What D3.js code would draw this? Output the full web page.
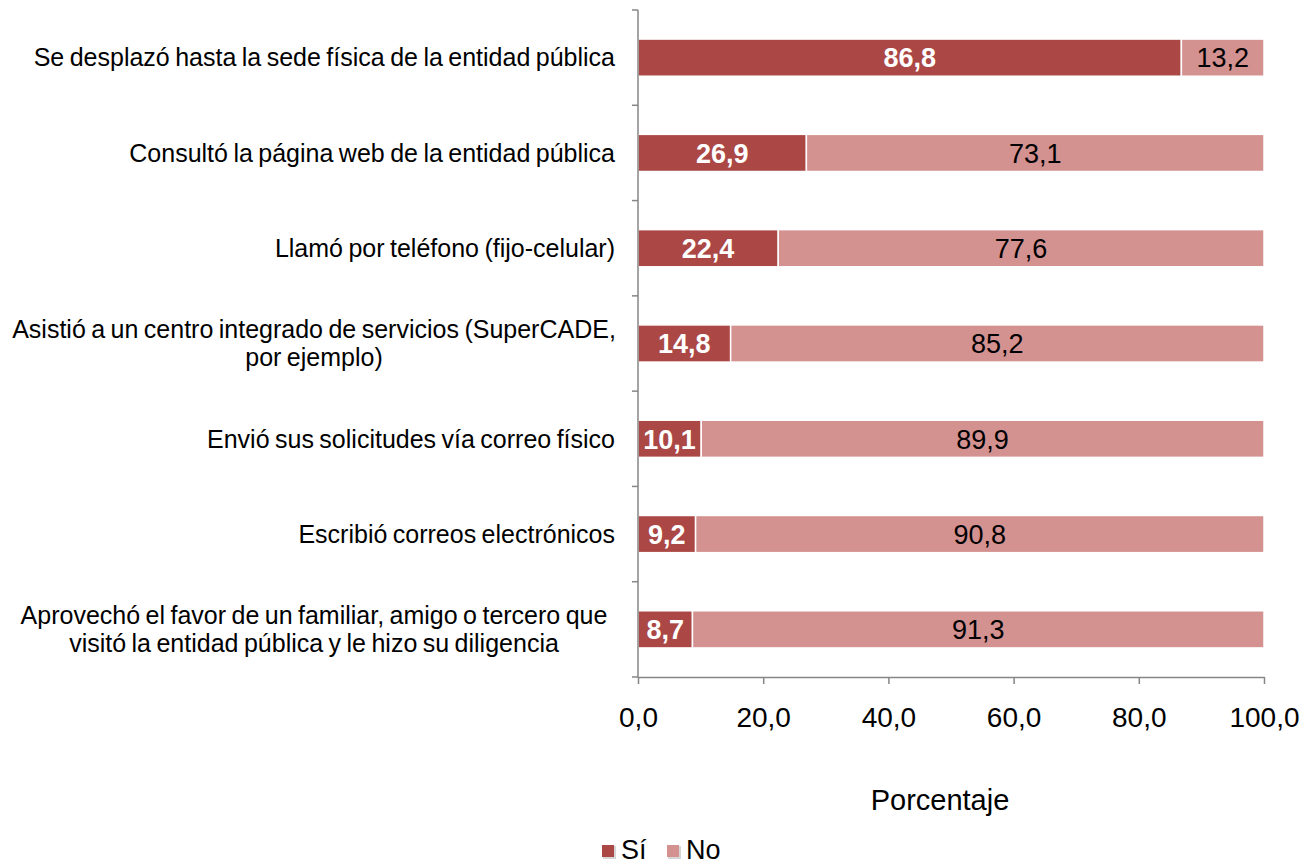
<!DOCTYPE html>
<html>
<head>
<meta charset="utf-8">
<script src="https://cdn.jsdelivr.net/npm/d3@7"></script>
<style>
  html, body { margin: 0; padding: 0; background: #fff; }
  svg text { font-family: "Liberation Sans", Arial, sans-serif; }
</style>
</head>
<body>
<svg id="chart" width="1314" height="865"></svg>
<script>
// Categories (top to bottom); each may wrap onto two lines
const categories = [
  ["Se desplazó hasta la sede física de la entidad pública"],
  ["Consultó la página web de la entidad pública"],
  ["Llamó por teléfono (fijo-celular)"],
  ["Asistió a un centro integrado de servicios (SuperCADE,", "por ejemplo)"],
  ["Envió sus solicitudes vía correo físico"],
  ["Escribió correos electrónicos"],
  ["Aprovechó el favor de un familiar, amigo o tercero  que", "visitó la entidad pública y le hizo su diligencia"]
];
const siValues = [86.8, 26.9, 22.4, 14.8, 10.1, 9.2, 8.7];
const noValues = [13.2, 73.1, 77.6, 85.2, 89.9, 90.8, 91.3];
const seriesNames = ["Sí", "No"];
const xTicks = [0, 20, 40, 60, 80, 100];

const colors = { "Sí": "#AB4745", "No": "#D39190" };
const fmt = v => v.toFixed(1).replace(".", ",");

const svg = d3.select("#chart");
const plot = { left: 638, right: 1264, top: 10, bottom: 677 };

const x = d3.scaleLinear().domain([0, 100]).range([plot.left, plot.right]);
const y = d3.scaleBand().domain(d3.range(categories.length)).range([plot.top, plot.bottom]).paddingInner(0.61).paddingOuter(0.305);

const rows = categories.map((c, i) => ({ i, si: siValues[i], no: noValues[i] }));

// Stacked bars with value labels
const g = svg.append("g");
rows.forEach(r => {
  const segs = [
    { name: "Sí", x0: 0, x1: r.si, v: r.si },
    { name: "No", x0: r.si, x1: r.si + r.no, v: r.no }
  ];
  segs.forEach(s => {
    g.append("rect")
      .attr("x", x(s.x0))
      .attr("y", y(r.i))
      .attr("width", x(s.x1) - x(s.x0))
      .attr("height", y.bandwidth())
      .attr("fill", colors[s.name])
      .attr("stroke", "#fff")
      .attr("stroke-width", 1.5);
    const t = g.append("text")
      .attr("x", (x(s.x0) + x(s.x1)) / 2)
      .attr("y", y(r.i) + y.bandwidth() / 2)
      .attr("dy", "0.36em")
      .attr("text-anchor", "middle")
      .attr("font-size", 27)
      .text(fmt(s.v));
    if (s.name === "Sí") t.attr("fill", "#fff").attr("font-weight", "bold");
    else t.attr("fill", "#000");
  });
});

// Y axis line with ticks at band boundaries
const axisColor = "#868686";
svg.append("line").attr("x1", plot.left).attr("x2", plot.left).attr("y1", plot.top).attr("y2", plot.bottom)
  .attr("stroke", axisColor).attr("stroke-width", 1.5);
const step = (plot.bottom - plot.top) / categories.length;
d3.range(categories.length + 1).forEach(k => {
  const yy = plot.top + k * step;
  svg.append("line").attr("x1", plot.left - 6).attr("x2", plot.left).attr("y1", yy).attr("y2", yy)
    .attr("stroke", axisColor).attr("stroke-width", 1.5);
});

// Category labels
categories.forEach((lines, i) => {
  const cy = y(i) + y.bandwidth() / 2;
  const lh = 28;
  const t = svg.append("text")
    .attr("text-anchor", lines.length > 1 ? "middle" : "end")
    .attr("font-size", 25)
    .attr("word-spacing", -1.5)
    .attr("fill", "#000");
  lines.forEach((ln, k) => {
    t.append("tspan")
      .attr("x", lines.length > 1 ? 314 : 615)
      .attr("y", cy + (k - (lines.length - 1) / 2) * lh)
      .attr("dy", "0.35em")
      .text(ln);
  });
});

// X axis
const xAxis = d3.axisBottom(x).tickValues(xTicks).tickFormat(fmt).tickSize(7).tickSizeOuter(0);
const ax = svg.append("g").attr("transform", `translate(0,${plot.bottom})`).call(xAxis);
ax.select(".domain").attr("stroke", axisColor).attr("stroke-width", 1.5);
ax.selectAll(".tick line").attr("stroke", axisColor).attr("stroke-width", 1.5);
ax.selectAll(".tick text").attr("font-size", 28).attr("fill", "#000").attr("y", 30).attr("dy", "0.71em")
  .attr("font-family", "Liberation Sans, Arial, sans-serif");

// Axis title
svg.append("text").attr("x", 940).attr("y", 810).attr("text-anchor", "middle")
  .attr("font-size", 29).attr("fill", "#000").text("Porcentaje");

// Legend
const legend = svg.append("g");
const legendItems = [
  { name: seriesNames[0], x: 602 },
  { name: seriesNames[1], x: 667 }
];
legendItems.forEach(it => {
  legend.append("rect").attr("x", it.x + 1).attr("y", 846).attr("width", 13).attr("height", 13)
    .attr("fill", "#bbb").attr("opacity", 0.6);
  legend.append("rect").attr("x", it.x).attr("y", 845).attr("width", 12).attr("height", 12)
    .attr("fill", colors[it.name]);
  legend.append("text").attr("x", it.x + 19).attr("y", 859).attr("font-size", 27)
    .attr("fill", "#000").text(it.name);
});
</script>
</body>
</html>
